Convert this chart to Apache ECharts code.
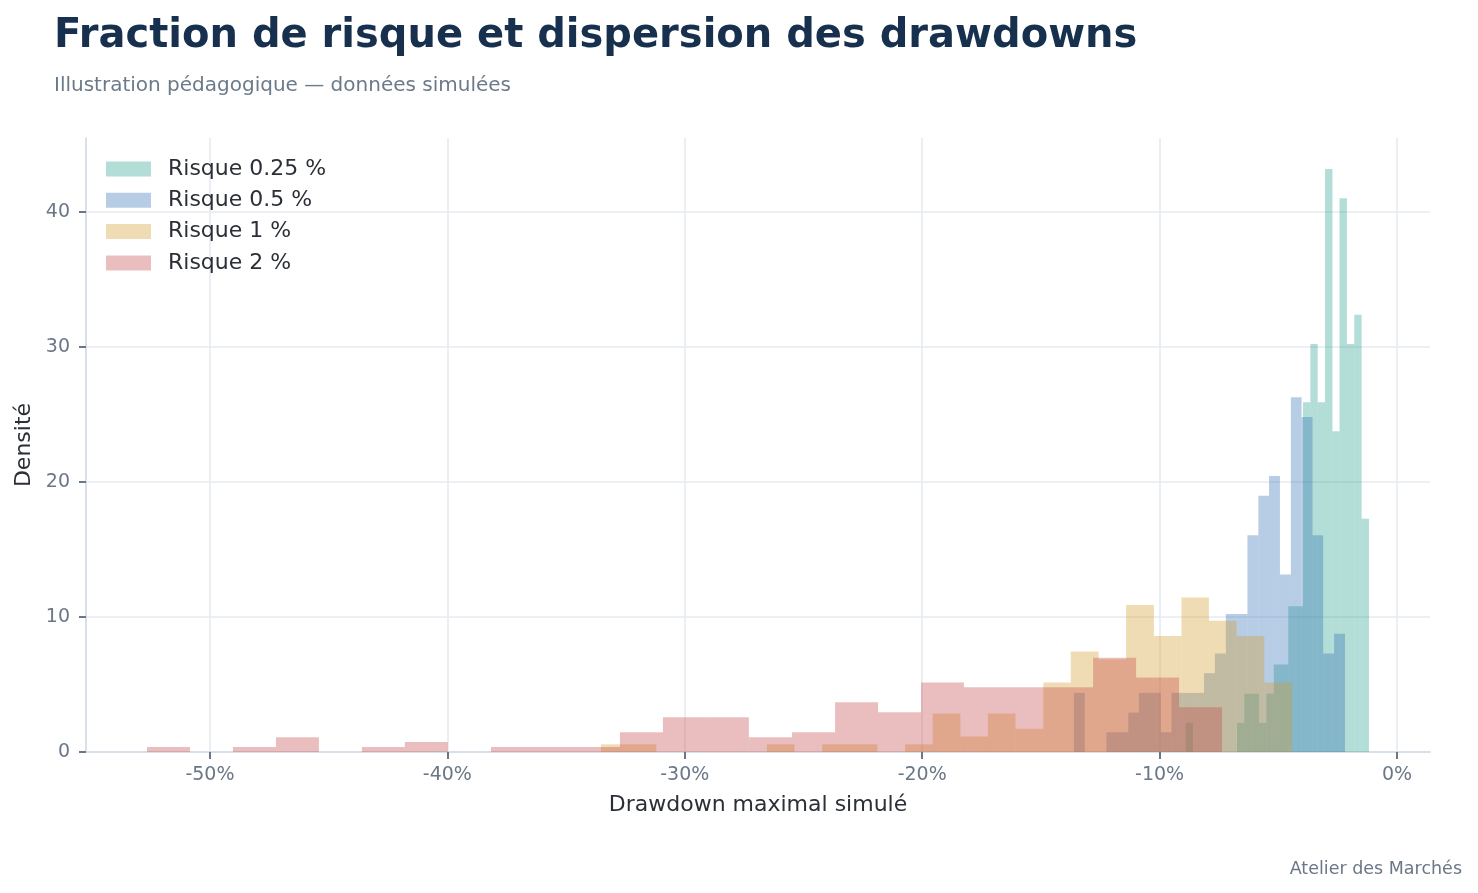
<!DOCTYPE html>
<html>
<head>
<meta charset="utf-8">
<title>Fraction de risque et dispersion des drawdowns</title>
<script src="https://cdn.jsdelivr.net/npm/echarts@6/dist/echarts.min.js"></script>
<style>
  html, body { margin: 0; padding: 0; background: #ffffff; }
  #chart { width: 1478px; height: 893px; }
</style>
</head>
<body>
<div id="chart"></div>
<script>
// Histogrammes (densité) des drawdowns maximaux simulés, en %
// bords des classes + densité par classe
const green025Edges = [-8.90, -8.59, -8.28, -7.97, -7.66, -7.36, -7.05, -6.74, -6.43, -6.12, -5.81, -5.50, -5.19, -4.89, -4.58, -4.27, -3.96, -3.65, -3.34, -3.03, -2.72, -2.42, -2.11, -1.80, -1.49, -1.18];
const green025Density = [2.16, 0, 0, 0, 0, 0, 0, 2.16, 4.32, 4.32, 2.16, 4.32, 6.48, 6.48, 10.80, 10.80, 25.91, 30.23, 25.91, 43.18, 23.75, 41.02, 30.23, 32.39, 17.27];

const blue05Edges = [-13.61, -13.15, -12.69, -12.24, -11.78, -11.32, -10.87, -10.41, -9.95, -9.50, -9.04, -8.58, -8.13, -7.67, -7.21, -6.76, -6.30, -5.84, -5.39, -4.93, -4.47, -4.02, -3.56, -3.11, -2.65, -2.19];
const blue05Density = [4.38, 0, 0, 1.46, 1.46, 2.92, 4.38, 4.38, 1.46, 4.38, 4.38, 4.38, 5.84, 7.30, 10.22, 10.22, 16.06, 18.98, 20.44, 13.14, 26.28, 24.82, 16.06, 7.30, 8.76];

const orange1Edges = [-33.53, -32.37, -31.20, -30.04, -28.87, -27.71, -26.54, -25.38, -24.21, -23.05, -21.89, -20.72, -19.56, -18.39, -17.23, -16.07, -14.90, -13.74, -12.57, -11.41, -10.24, -9.08, -7.92, -6.75, -5.59, -4.42];
const orange1Density = [0.57, 0.57, 0, 0, 0, 0, 0.57, 0, 0.57, 0.57, 0, 0.57, 2.86, 1.15, 2.86, 1.72, 5.15, 7.44, 6.87, 10.88, 8.59, 11.45, 9.73, 8.59, 5.15];

const red2Edges = [-52.65, -50.84, -49.03, -47.22, -45.41, -43.60, -41.79, -39.98, -38.16, -36.35, -34.54, -32.73, -30.92, -29.11, -27.30, -25.48, -23.67, -21.86, -20.05, -18.24, -16.43, -14.62, -12.80, -10.99, -9.18, -7.37];
const red2Density = [0.37, 0, 0.37, 1.10, 0, 0.37, 0.74, 0, 0.37, 0.37, 0.37, 1.47, 2.58, 2.58, 1.10, 1.47, 3.68, 2.94, 5.15, 4.79, 4.79, 4.79, 6.99, 5.52, 3.31];

const seriesNames = ['Risque 0.25 %', 'Risque 0.5 %', 'Risque 1 %', 'Risque 2 %'];
const xTicks = [-50, -40, -30, -20, -10, 0];
const yTicks = [0, 10, 20, 30, 40];

const FONT = 'DejaVu Sans, Noto Sans, sans-serif';
const TICK_COLOR = '#6b7787';

// [gauche, droite, densité] pour chaque classe
function bins(edges, density) {
  const out = [];
  for (let i = 0; i < density.length; i++) {
    out.push([edges[i], edges[i + 1], density[i]]);
  }
  return out;
}

function histSeries(name, edges, density, color) {
  return {
    name: name,
    type: 'custom',
    itemStyle: { color: color },
    encode: { x: [0, 1], y: 2 },
    data: bins(edges, density),
    renderItem: function (params, api) {
      const h = api.value(2);
      if (!h) return null;
      const p0 = api.coord([api.value(0), h]);
      const p1 = api.coord([api.value(1), 0]);
      return {
        type: 'rect',
        shape: { x: p0[0], y: p0[1], width: p1[0] - p0[0], height: p1[1] - p0[1] },
        style: { fill: color }
      };
    }
  };
}

const chart = echarts.init(document.getElementById('chart'));
const option = {
  animation: false,
  backgroundColor: '#ffffff',
  title: [
    {
      text: 'Fraction de risque et dispersion des drawdowns',
      left: 49,
      top: 12,
      textStyle: { fontFamily: FONT, fontSize: 40, fontWeight: 'bold', color: '#17304d' }
    },
    {
      text: 'Illustration pédagogique — données simulées',
      left: 49,
      top: 71,
      textStyle: { fontFamily: FONT, fontSize: 20, fontWeight: 'normal', color: '#6b7a8a' }
    },
    {
      text: 'Atelier des Marchés',
      right: 11,
      top: 855,
      textStyle: { fontFamily: FONT, fontSize: 17.5, fontWeight: 'normal', color: '#6b7787' }
    }
  ],
  legend: {
    data: seriesNames,
    orient: 'vertical',
    left: 101,
    top: 153,
    icon: 'rect',
    itemWidth: 45,
    itemHeight: 15,
    itemGap: 9.3,
    textStyle: { fontFamily: FONT, fontSize: 22, color: '#2b2f36', lineHeight: 22, padding: [0, 0, 0, 12] }
  },
  grid: { left: 86, right: 48, top: 138, bottom: 141, containLabel: false },
  xAxis: {
    type: 'value',
    min: -55.22,
    max: 1.39,
    name: 'Drawdown maximal simulé',
    nameLocation: 'middle',
    nameGap: 42,
    nameTextStyle: { fontFamily: FONT, fontSize: 22, color: '#2b2f36' },
    axisLine: { show: true, onZero: false, lineStyle: { color: '#cfd9e4', width: 1.6 } },
    axisTick: { show: true, inside: false, length: 7, customValues: xTicks, lineStyle: { color: TICK_COLOR, width: 2 } },
    axisLabel: {
      customValues: xTicks,
      margin: 14,
      fontFamily: FONT,
      fontSize: 19,
      color: TICK_COLOR,
      formatter: function (v) { return Math.round(v) + '%'; }
    },
    splitLine: { show: true, lineStyle: { color: '#e6ebf1', width: 1.6 } }
  },
  yAxis: {
    type: 'value',
    min: 0,
    max: 45.48,
    name: 'Densité',
    nameLocation: 'middle',
    nameRotate: 90,
    nameGap: 43,
    nameTextStyle: { fontFamily: FONT, fontSize: 22, color: '#2b2f36' },
    axisLine: { show: true, onZero: false, lineStyle: { color: '#cfd9e4', width: 1.6 } },
    axisTick: { show: true, inside: false, length: 7, customValues: yTicks, lineStyle: { color: TICK_COLOR, width: 2 } },
    axisLabel: { customValues: yTicks, margin: 16, fontFamily: FONT, fontSize: 19, color: TICK_COLOR },
    splitLine: { show: true, lineStyle: { color: '#e6ebf1', width: 1.6 } }
  },
  series: [
    histSeries(seriesNames[0], green025Edges, green025Density, 'rgba(38,158,141,0.35)'),
    histSeries(seriesNames[1], blue05Edges, blue05Density, 'rgba(49,112,181,0.35)'),
    histSeries(seriesNames[2], orange1Edges, orange1Density, 'rgba(212,155,41,0.35)'),
    histSeries(seriesNames[3], red2Edges, red2Density, 'rgba(195,69,69,0.35)')
  ]
};
chart.setOption(option);
</script>
</body>
</html>
